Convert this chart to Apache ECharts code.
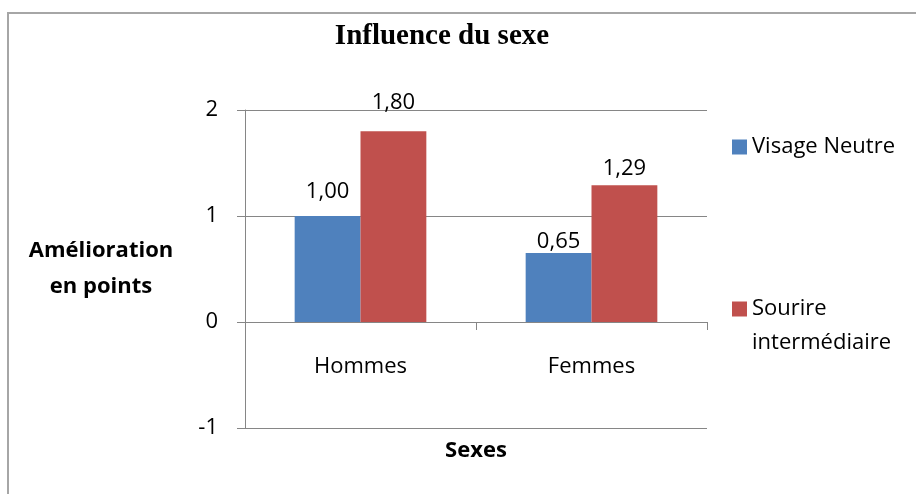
<!DOCTYPE html>
<html>
<head>
<meta charset="utf-8">
<script src="https://cdn.jsdelivr.net/npm/echarts@6/dist/echarts.min.js"></script>
<style>
  html, body { margin: 0; padding: 0; background: #fff; }
  #chart { width: 916px; height: 494px; }
</style>
</head>
<body>
<div id="chart"></div>
<script>
  // données
  const categories = ['Hommes', 'Femmes']
  const visageNeutre = [1.00, 0.65]
  const sourireInter = [1.80, 1.29]
  const yTicks = { min: -1, max: 2, interval: 1 }

  // écart des étiquettes au-dessus des barres (placées à la main dans l'original)
  const gapNeutre = [13, 0]
  const gapSourire = [17, 6]

  const font = 'Open Sans'
  const axisGray = '#868686'

  function fmt(p) {
    return p.value.toFixed(2).replace('.', ',')
  }

  function withGaps(values, gaps) {
    return values.map((v, i) => ({ value: v, label: { distance: gaps[i] } }))
  }

  const labelStyle = {
    show: true, position: 'top', formatter: fmt,
    fontFamily: font, fontSize: 22, color: '#000'
  }

  const myChart = echarts.init(document.getElementById('chart'))
  myChart.setOption({
    animation: false,
    textStyle: { fontFamily: font },
    title: {
      text: 'Influence du sexe',
      left: 437,
      textAlign: 'center',
      top: 17,
      textStyle: {
        fontFamily: 'Liberation Serif',
        fontWeight: 'bold',
        fontSize: 29,
        color: '#000'
      }
    },
    graphic: [{
      type: 'rect',
      shape: { x: 8, y: 13, width: 1000, height: 1000 },
      style: { fill: 'none', stroke: '#A6A6A6', lineWidth: 2 },
      silent: true
    }],
    legend: [
      {
        data: ['Visage Neutre'],
        orient: 'vertical',
        left: 727,
        top: 130,
        itemWidth: 15,
        itemHeight: 15,
        icon: 'rect',
        textStyle: { fontFamily: font, fontSize: 22, color: '#000', lineHeight: 24 }
      },
      {
        data: ['Sourire intermédiaire'],
        orient: 'vertical',
        left: 727,
        top: 253,
        itemWidth: 15,
        itemHeight: 15,
        icon: 'rect',
        // ligne vide en tête pour que "Sourire" soit aligné sur le carré
        formatter: function () { return '\nSourire\nintermédiaire' },
        textStyle: { fontFamily: font, fontSize: 22, color: '#000', lineHeight: 34 }
      }
    ],
    grid: { left: 245, right: 209, top: 110, bottom: 66, outerBoundsMode: 'none', containLabel: false },
    xAxis: {
      type: 'category',
      data: categories,
      name: 'Sexes',
      nameLocation: 'middle',
      nameGap: 12,
      nameTextStyle: { fontFamily: font, fontWeight: 'bold', fontSize: 22, color: '#000' },
      axisLine: { onZero: true, lineStyle: { color: axisGray, width: 1 } },
      axisTick: { show: true, length: 8, lineStyle: { color: axisGray } },
      // les libellés restent au bas de la grille : on les remonte sous la ligne du zéro
      axisLabel: { fontFamily: font, fontSize: 22, color: '#000', margin: -72 }
    },
    yAxis: {
      type: 'value',
      min: yTicks.min,
      max: yTicks.max,
      interval: yTicks.interval,
      name: 'Amélioration\nen points',
      nameLocation: 'middle',
      nameRotate: 0,
      nameGap: 144,
      nameTextStyle: {
        fontFamily: font, fontWeight: 'bold', fontSize: 22, color: '#000',
        align: 'center', lineHeight: 36, padding: [4, 0, 0, 0]
      },
      axisLine: { show: true, lineStyle: { color: axisGray, width: 1 } },
      axisTick: { show: true, length: 8, lineStyle: { color: axisGray } },
      axisLabel: { fontFamily: font, fontSize: 22, color: '#000', margin: 27 },
      splitLine: { show: true, lineStyle: { color: axisGray, width: 1 } }
    },
    series: [
      {
        name: 'Visage Neutre',
        type: 'bar',
        data: withGaps(visageNeutre, gapNeutre),
        barGap: 0,
        barCategoryGap: '43%',
        itemStyle: { color: '#4F81BD' },
        label: labelStyle
      },
      {
        name: 'Sourire intermédiaire',
        type: 'bar',
        data: withGaps(sourireInter, gapSourire),
        barGap: 0,
        barCategoryGap: '43%',
        itemStyle: { color: '#C0504D' },
        label: labelStyle
      }
    ]
  })
</script>
</body>
</html>
